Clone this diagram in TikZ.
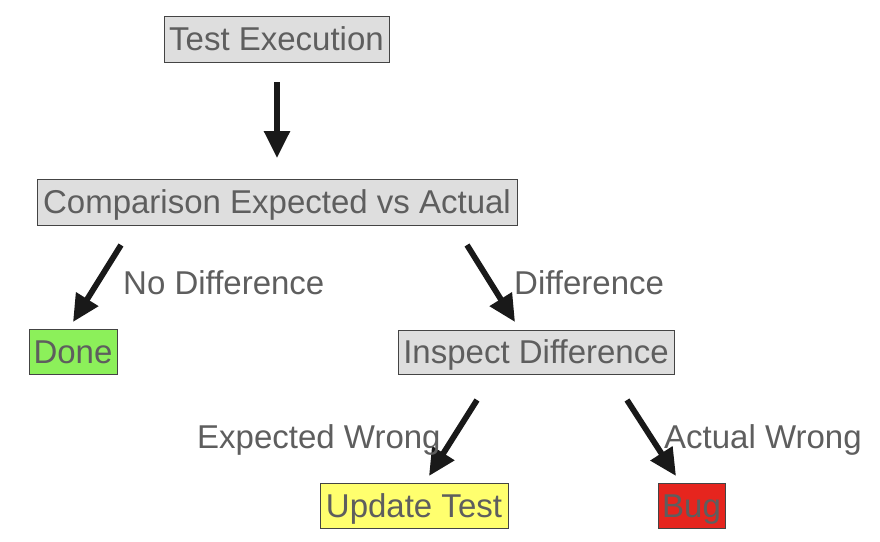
\documentclass[tikz,border=0pt]{standalone}
\usepackage{fontspec}
\setmainfont{Liberation Sans}
\usetikzlibrary{arrows.meta}
\definecolor{txtgray}{HTML}{5E5E5E}
\definecolor{boxgray}{HTML}{DEDEDE}
\definecolor{boxgreen}{HTML}{8CF05A}
\definecolor{boxyellow}{HTML}{FFFF6E}
\definecolor{boxred}{HTML}{E6251E}
\definecolor{edgegray}{HTML}{444444}
\tikzset{
  box/.style={draw=edgegray, line width=0.8pt, inner sep=0pt, text=txtgray,
    font=\fontsize{33}{36}\selectfont, text height=23.6pt, text depth=0pt},
  lbl/.style={inner sep=0pt, text=txtgray, font=\fontsize{33}{36}\selectfont, anchor=base west},
  flow/.style={line width=5.8pt, -{Triangle[length=27pt,width=25pt]}, black!90}
}
\begin{document}
\begin{tikzpicture}[x=1pt,y=-1pt]
\useasboundingbox (0,0) rectangle (880,541);
\node[box, fill=boxgray, minimum width=225, minimum height=46] (test) at (276.5,39) {Test Execution};
\node[box, fill=boxgray, minimum width=480, minimum height=46] (cmp) at (277,202) {Comparison Expected vs Actual};
\node[box, fill=boxgreen, minimum width=88, minimum height=45] (done) at (73,351.5) {Done};
\node[box, fill=boxgray, minimum width=276, minimum height=44] (insp) at (536,352) {Inspect Difference};
\node[box, fill=boxyellow, minimum width=188, minimum height=45] (upd) at (414,505.5) {Update Test};
\node[box, fill=boxred, minimum width=67, minimum height=45] (bug) at (691.5,505.5) {Bug};

\coordinate (a1s) at (277,82);  \coordinate (a1e) at (277,158);
\coordinate (a2s) at (121,245); \coordinate (a2e) at (73,322);
\coordinate (a3s) at (467,245); \coordinate (a3e) at (515,322);
\coordinate (a4s) at (477,400); \coordinate (a4e) at (429,476);
\coordinate (a5s) at (627,400); \coordinate (a5e) at (676,476);

\draw[flow] (a1s) -- (a1e);
\draw[flow] (a2s) -- (a2e);
\draw[flow] (a3s) -- (a3e);
\draw[flow] (a4s) -- (a4e);
\draw[flow] (a5s) -- (a5e);

\node[lbl] (l1) at (123,294) {No Difference};
\node[lbl] (l2) at (514,294) {Difference};
\node[lbl] (l3) at (197,448) {Expected Wrong};
\node[lbl] (l4) at (664,448) {Actual Wrong};
\end{tikzpicture}
\end{document}
